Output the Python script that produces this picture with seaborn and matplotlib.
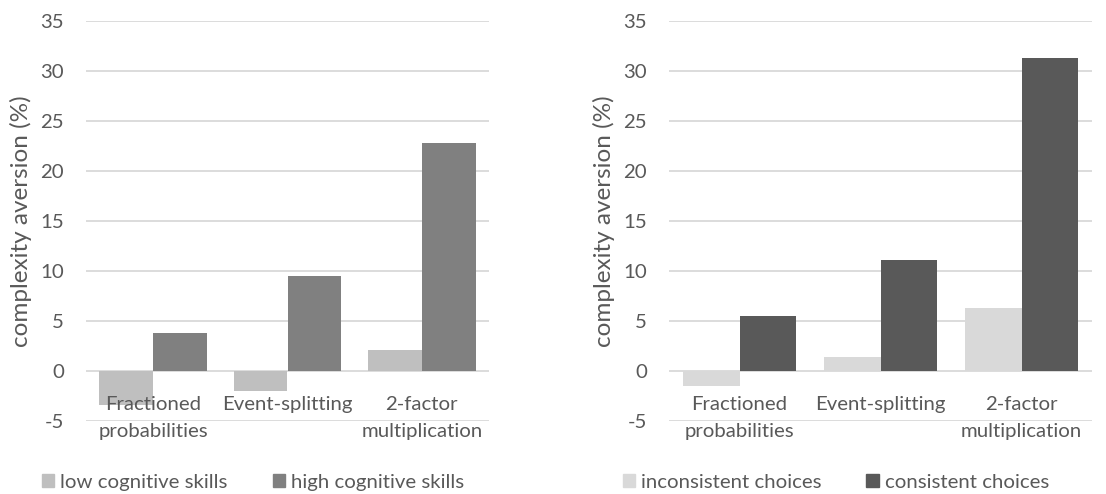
import matplotlib
matplotlib.use("Agg")
import matplotlib.pyplot as plt
import seaborn as sns
import pandas as pd

# data
categories = ["Fractioned\nprobabilities", "Event-splitting", "2-factor\nmultiplication"]
low_skills = [-3.4, -2.0, 2.1]
high_skills = [3.8, 9.5, 22.8]
inconsistent = [-1.5, 1.4, 6.3]
consistent = [5.5, 11.1, 31.3]
yticks = [-5, 0, 5, 10, 15, 20, 25, 30, 35]

sns.set_style("white")
plt.rcParams['font.family'] = ['Lato', 'DejaVu Sans']
txt = "#595959"
fs = 14.7

fig = plt.figure(figsize=(11.06, 4.94), dpi=100)
ax1 = fig.add_axes([86/1106, 1-421/494, 403/1106, 400/494])
ax2 = fig.add_axes([669/1106, 1-421/494, 423/1106, 400/494])

panels = [
    (ax1, low_skills, high_skills, "low cognitive skills", "high cognitive skills", ["#BFBFBF", "#808080"], 0.038),
    (ax2, inconsistent, consistent, "inconsistent choices", "consistent choices", ["#D9D9D9", "#595959"], 0.563),
]

for ax, a, b, na, nb, pal, lx in panels:
    df = pd.DataFrame({
        "cat": categories * 2,
        "val": a + b,
        "grp": [na] * 3 + [nb] * 3,
    })
    sns.barplot(data=df, x="cat", y="val", hue="grp", palette=pal, width=0.8,
                saturation=1, ax=ax, legend=False, edgecolor="none")
    ax.set_ylim(-5, 35)
    ax.set_xlim(-0.5, 2.5)
    ax.set_yticks(yticks)
    ax.set_yticklabels([str(t) for t in yticks], fontsize=fs, color=txt)
    ax.yaxis.grid(True, color="#D9D9D9", linewidth=1.3)
    ax.set_axisbelow(True)
    ax.xaxis.set_zorder(3)  # category labels drawn over the negative bars
    for s in ["top", "right", "left"]:
        ax.spines[s].set_visible(False)
    # category labels sit just under the zero line
    ax.spines["bottom"].set_position(("data", 0))
    ax.spines["bottom"].set_visible(False)
    ax.set_xticks(range(len(categories)))
    ax.set_xticklabels(categories, fontsize=fs, color=txt, linespacing=1.75)
    ax.tick_params(axis="x", length=0, pad=18)
    ax.tick_params(axis="y", length=0, pad=16)
    ax.set_xlabel("")
    ax.set_ylabel("complexity aversion (%)", fontsize=17.5, color=txt, labelpad=6)

    handles = [plt.Rectangle((0, 0), 1, 1, color=c) for c in pal]
    fig.legend(handles, [na, nb], loc="center left", bbox_to_anchor=(lx, 0.024),
               ncol=2, frameon=False, fontsize=fs, labelcolor=txt,
               handlelength=0.6, handleheight=0.6, handletextpad=0.3,
               columnspacing=2.2, borderaxespad=0, borderpad=0)

fig.savefig("out.png", dpi=100)
